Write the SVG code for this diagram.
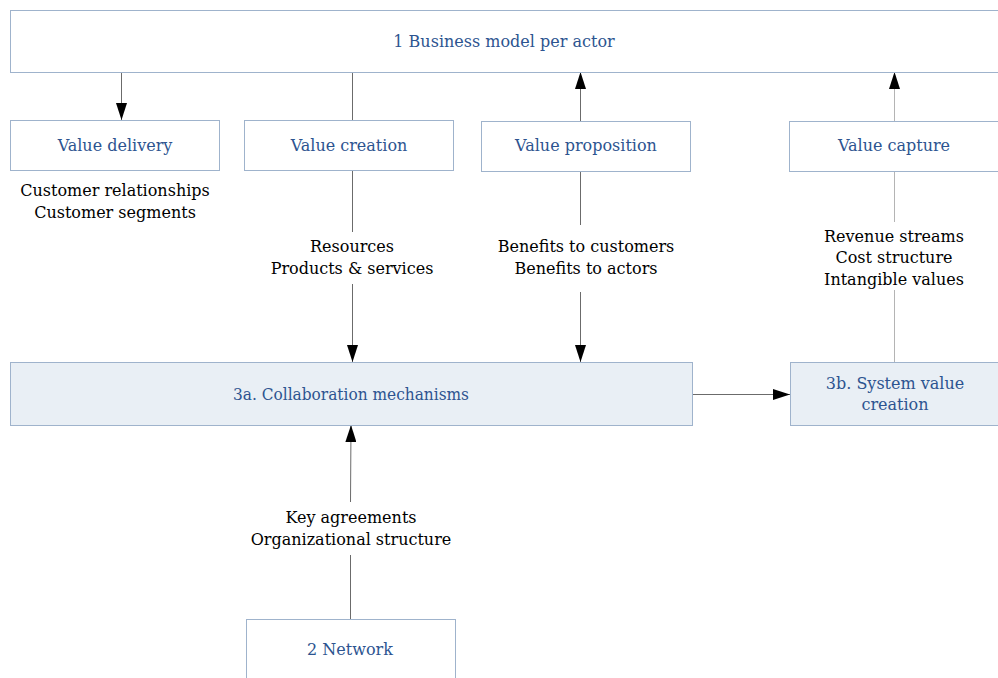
<svg xmlns="http://www.w3.org/2000/svg" width="998" height="678" viewBox="0 0 998 678">
  <style>
    .box { fill: #ffffff; stroke: #9fb3cc; stroke-width: 1; }
    .box.shaded { fill: #e9eff5; }
    .title { font-family: "DejaVu Serif", "Liberation Serif", serif; font-size: 16px; fill: #2d5490; text-anchor: middle; }
    .label { font-family: "DejaVu Serif", "Liberation Serif", serif; font-size: 16px; fill: #000000; text-anchor: middle; }
    .conn { stroke: #6b6b6b; stroke-width: 1; fill: none; }
    .conn.light { stroke: #b4b4b4; }
  </style>
  <defs>
    <marker id="arrow" viewBox="0 0 17 11" refX="17" refY="5.5" markerWidth="17" markerHeight="11" markerUnits="userSpaceOnUse" orient="auto">
      <path d="M0,0 L17,5.5 L0,11 Z" fill="#000000"/>
    </marker>
  </defs>
  <rect width="998" height="678" fill="#ffffff"/>

  <g id="connectors">
    <line class="conn" x1="121.5" y1="72" x2="121.5" y2="120" marker-end="url(#arrow)"/>
    <line class="conn" x1="352.5" y1="72" x2="352.5" y2="120"/>
    <line class="conn" x1="352.5" y1="170" x2="352.5" y2="232"/>
    <line class="conn" x1="352.5" y1="284" x2="352.5" y2="362" marker-end="url(#arrow)"/>
    <line class="conn" x1="580.5" y1="121" x2="580.5" y2="72" marker-end="url(#arrow)"/>
    <line class="conn" x1="580.5" y1="171" x2="580.5" y2="225"/>
    <line class="conn" x1="580.5" y1="292" x2="580.5" y2="362" marker-end="url(#arrow)"/>
    <line class="conn light" x1="894.5" y1="121" x2="894.5" y2="72" marker-end="url(#arrow)"/>
    <line class="conn light" x1="894.5" y1="171" x2="894.5" y2="222"/>
    <line class="conn light" x1="894.5" y1="290" x2="894.5" y2="362"/>
    <line class="conn" x1="692" y1="394.5" x2="790" y2="394.5" marker-end="url(#arrow)"/>
    <line class="conn" x1="350.5" y1="502" x2="351" y2="425" marker-end="url(#arrow)"/>
    <line class="conn" x1="350.5" y1="555" x2="350.5" y2="619"/>
  </g>

  <g id="business-model">
    <rect class="box" x="10.5" y="10.5" width="992" height="62"/>
    <text class="title" x="504" y="47">1 Business model per actor</text>
  </g>
  <g id="value-delivery">
    <rect class="box" x="10.5" y="120.5" width="209" height="50"/>
    <text class="title" x="115" y="151">Value delivery</text>
    <text class="label" x="115" y="196">Customer relationships</text>
    <text class="label" x="115" y="218">Customer segments</text>
  </g>
  <g id="value-creation">
    <rect class="box" x="244.5" y="120.5" width="209" height="50"/>
    <text class="title" x="349" y="151">Value creation</text>
  </g>
  <g id="value-proposition">
    <rect class="box" x="481.5" y="121.5" width="209" height="50"/>
    <text class="title" x="586" y="151">Value proposition</text>
  </g>
  <g id="value-capture">
    <rect class="box" x="789.5" y="121.5" width="212" height="50"/>
    <text class="title" x="894" y="151">Value capture</text>
  </g>
  <g id="resources-label">
    <text class="label" x="352" y="252">Resources</text>
    <text class="label" x="352" y="274">Products &amp; services</text>
  </g>
  <g id="benefits-label">
    <text class="label" x="586" y="252">Benefits to customers</text>
    <text class="label" x="586" y="274">Benefits to actors</text>
  </g>
  <g id="capture-label">
    <text class="label" x="894" y="242">Revenue streams</text>
    <text class="label" x="894" y="263">Cost structure</text>
    <text class="label" x="894" y="285">Intangible values</text>
  </g>
  <g id="collaboration-mechanisms">
    <rect class="box shaded" x="10.5" y="362.5" width="682" height="63"/>
    <text class="title" x="351" y="400" textLength="236" lengthAdjust="spacingAndGlyphs">3a. Collaboration mechanisms</text>
  </g>
  <g id="system-value-creation">
    <rect class="box shaded" x="790.5" y="362.5" width="212" height="63"/>
    <text class="title" x="895" y="389">3b. System value</text>
    <text class="title" x="895" y="410">creation</text>
  </g>
  <g id="network-label">
    <text class="label" x="351" y="523">Key agreements</text>
    <text class="label" x="351" y="545">Organizational structure</text>
  </g>
  <g id="network">
    <rect class="box" x="246.5" y="619.5" width="209" height="70"/>
    <text class="title" x="350" y="655">2 Network</text>
  </g>
</svg>
